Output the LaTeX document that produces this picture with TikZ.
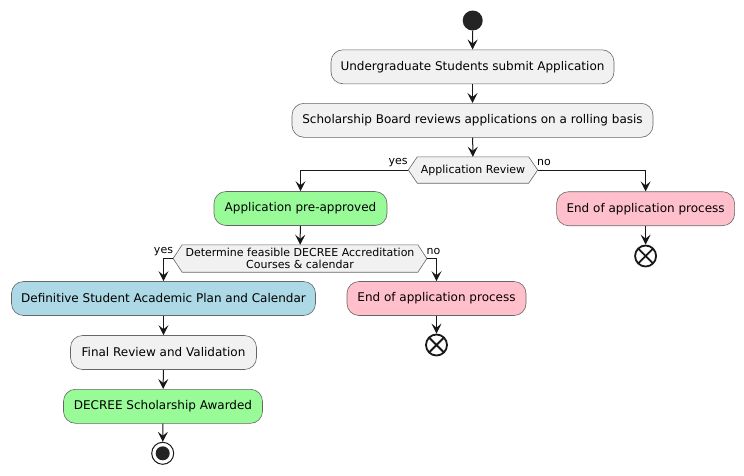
\documentclass[tikz,border=0pt]{standalone}
\usepackage{fontspec}
\setmainfont{DejaVu Sans}
\usetikzlibrary{arrows.meta,calc}
\pgfdeclarelayer{background}
\pgfsetlayers{background,main}
\definecolor{boxgrey}{HTML}{F1F1F1}
\definecolor{linec}{HTML}{181818}
\definecolor{okgreen}{HTML}{98FB98}
\definecolor{nopink}{HTML}{FFC0CB}
\definecolor{planblue}{HTML}{ADD8E6}
\definecolor{bordc}{HTML}{666666}
\begin{document}
\begin{tikzpicture}[x=1pt,y=-1pt,
  act/.style={draw=bordc,line width=0.6pt,rounded corners=12pt,fill=boxgrey,
    minimum height=34pt,inner sep=0pt,font=\fontsize{12}{14}\selectfont,text=black},
  hexnode/.style={inner sep=0pt,font=\fontsize{11}{12.5}\selectfont,align=center,text=black},
  lbl/.style={inner sep=0pt,font=\fontsize{11}{12}\selectfont,text=black},
  flow/.style={draw=linec,line width=1pt,-{Stealth[length=10pt,width=10pt,inset=4pt]}},
  endx/.style={circle,draw=linec,line width=1.8pt,minimum size=21pt,inner sep=0pt,fill=white},
]
\useasboundingbox (0,0) rectangle (744,475);

\node[circle,fill=linec!95!white,minimum size=20pt,inner sep=0pt] (start) at (472.7,20.5) {};
\node[act,minimum width=283pt] (b1) at (472.5,66.8) {Undergraduate Students submit Application};
\node[act,minimum width=361pt] (b2) at (472.5,120.3) {Scholarship Board reviews applications on a rolling basis};
\node[hexnode,minimum width=129pt,minimum height=26pt] (d1) at (473,170) {Application Review};

\node[act,fill=okgreen,minimum width=173pt] (a1) at (300.5,208.5) {Application pre-approved};
\node[act,fill=nopink,minimum width=178pt] (p1) at (645.6,208.7) {End of application process};
\node[endx] (x1) at (645.6,256) {};
\draw[linec,line width=1.8pt] ($(x1.center)+(-7,-7)$) -- ($(x1.center)+(7,7)$)
  ($(x1.center)+(-7,7)$) -- ($(x1.center)+(7,-7)$);

\node[hexnode,minimum width=253.4pt,minimum height=27pt] (d2) at (300,258.5)
  {Determine feasible DECREE Accreditation\\Courses \& calendar};

\node[act,fill=planblue,minimum width=304pt] (bl) at (163.5,298.5) {Definitive Student Academic Plan and Calendar};
\node[act,fill=nopink,minimum width=179pt] (p2) at (436.5,298.5) {End of application process};
\node[endx] (x2) at (436.5,345) {};
\draw[linec,line width=1.8pt] ($(x2.center)+(-7,-7)$) -- ($(x2.center)+(7,7)$)
  ($(x2.center)+(-7,7)$) -- ($(x2.center)+(7,-7)$);

\node[act,minimum width=186pt] (fr) at (163.5,352.5) {Final Review and Validation};
\node[act,fill=okgreen,minimum width=199pt] (dc) at (163,406.3) {DECREE Scholarship Awarded};
\node[circle,draw=linec,line width=1pt,fill=white,minimum size=22pt,inner sep=0pt] (stop) at (162.7,453.3) {};
\node[circle,fill=linec!95!white,minimum size=14pt,inner sep=0pt] (stopin) at (stop.center) {};

\begin{pgfonlayer}{background}
\fill[white] (0,0) rectangle (744,475);
\foreach \d in {d1,d2}{
  \draw[draw=bordc,line width=0.6pt,fill=boxgrey]
    (\d.west) -- ([xshift=9pt]\d.north west) -- ([xshift=-9pt]\d.north east) -- (\d.east)
    -- ([xshift=-9pt]\d.south east) -- ([xshift=9pt]\d.south west) -- cycle;
}
\end{pgfonlayer}

\node[lbl] (y1) at (398,162.5) {yes};
\node[lbl] (n1) at (544,162.5) {no};
\node[lbl] (y2) at (163.5,251.5) {yes};
\node[lbl] (n2) at (433.5,251.5) {no};

\draw[flow] (start) -- (b1);
\draw[flow] (b1) -- (b2);
\draw[flow] (b2) -- (d1);
\draw[flow] (d1.west) -| (a1.north);
\draw[flow] (d1.east) -| (p1.north);
\draw[flow] (p1) -- (x1);
\draw[flow] (a1) -- (d2);
\draw[flow] (d2.west) -| (bl.north);
\draw[flow] (d2.east) -| (p2.north);
\draw[flow] (p2) -- (x2);
\draw[flow] (bl) -- (fr);
\draw[flow] (fr) -- (dc);
\draw[flow] (dc) -- (stop);
\end{tikzpicture}
\end{document}
